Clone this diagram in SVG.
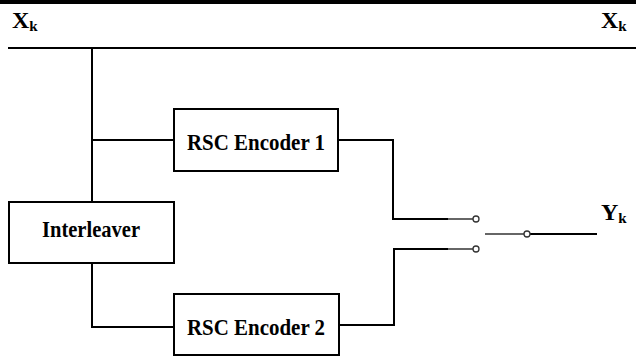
<svg xmlns="http://www.w3.org/2000/svg" width="636" height="360" viewBox="0 0 636 360">
<style>
.box{fill:#fff;stroke:#000;stroke-width:2}
.ln{fill:none;stroke:#000;stroke-width:2}
.thin{fill:none;stroke:#333;stroke-width:1.5}
.t{font-family:"Liberation Serif","Times New Roman",serif;font-weight:bold;fill:#000}
.c{fill:#fff;stroke:#333;stroke-width:1.3}
</style>
<rect x="0" y="0" width="636" height="4" fill="#000"/>
<g id="connectors">
<line class="ln" x1="8" y1="48" x2="636" y2="48"/>
<polyline class="ln" points="92,48 92,202"/>
<polyline class="ln" points="92,140 174,140"/>
<polyline class="ln" points="92,263 92,327 174,327"/>
<polyline class="ln" points="338,140 393,140 393,219 448,219"/>
<line class="thin" x1="448" y1="219" x2="473" y2="219"/>
<polyline class="ln" points="339,325 394,325 394,249 448,249"/>
<line class="thin" x1="448" y1="249" x2="473" y2="249"/>
<line class="thin" x1="485" y1="234" x2="524" y2="234"/>
<line class="ln" x1="530" y1="234" x2="597" y2="234"/>
<circle class="c" cx="476" cy="219" r="3"/>
<circle class="c" cx="476" cy="249" r="3"/>
<circle class="c" cx="527" cy="234" r="3"/>
</g>
<g id="enc1">
<rect class="box" x="174" y="109" width="164" height="62"/>
<text class="t" x="187" y="150" font-size="23.5" textLength="138" lengthAdjust="spacingAndGlyphs">RSC Encoder 1</text>
</g>
<g id="interleaver">
<rect class="box" x="9" y="202" width="165" height="61"/>
<text class="t" x="42" y="237" font-size="23" textLength="98" lengthAdjust="spacingAndGlyphs">Interleaver</text>
</g>
<g id="enc2">
<rect class="box" x="174" y="294" width="165" height="61"/>
<text class="t" x="187" y="335" font-size="23.5" textLength="138" lengthAdjust="spacingAndGlyphs">RSC Encoder 2</text>
</g>
<g id="labels">
<text class="t" x="12" y="28" font-size="24">X<tspan font-size="15" dy="3">k</tspan></text>
<text class="t" x="601" y="28" font-size="24">X<tspan font-size="15" dy="3">k</tspan></text>
<text class="t" x="601" y="220" font-size="24">Y<tspan font-size="15" dy="3">k</tspan></text>
</g>
</svg>
